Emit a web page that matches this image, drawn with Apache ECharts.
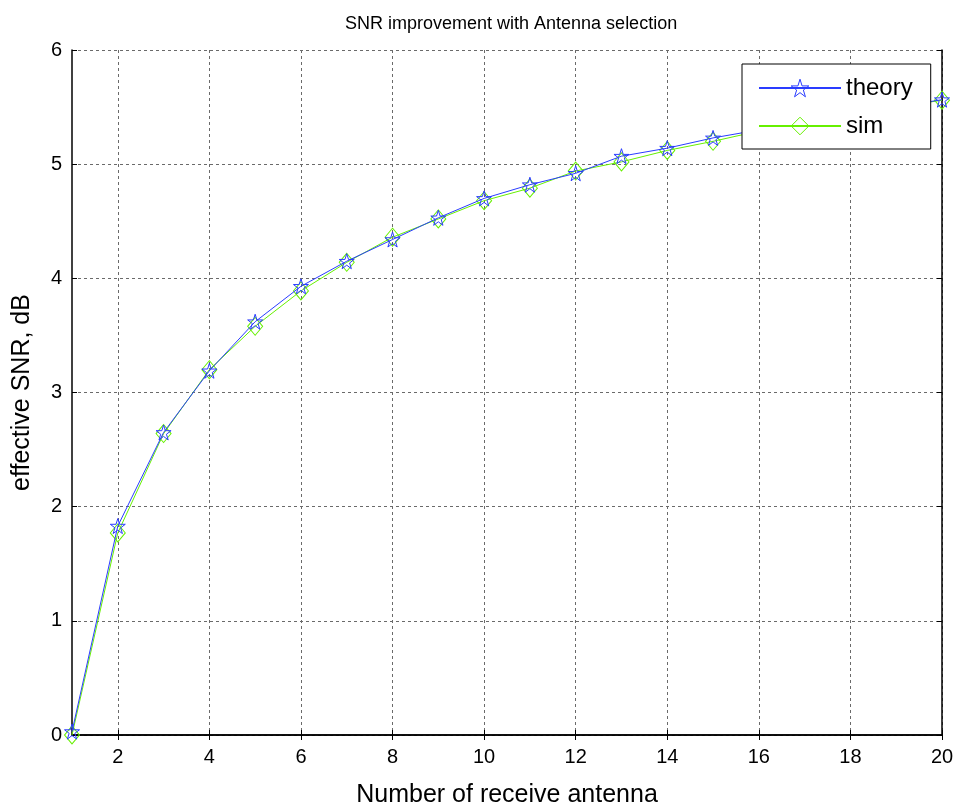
<!DOCTYPE html>
<html>
<head>
<meta charset="utf-8">
<script src="https://cdn.jsdelivr.net/npm/echarts@6/dist/echarts.min.js"></script>
<style>html,body{margin:0;padding:0;background:#fff}#c{width:960px;height:807px}</style>
</head>
<body>
<div id="c"></div>
<script>
var antennas = [1,2,3,4,5,6,7,8,9,10,11,12,13,14,15,16,17,18,19,20];
var theory = [0.03,1.83,2.65,3.19,3.62,3.93,4.15,4.34,4.53,4.70,4.82,4.92,5.07,5.14,5.23,5.30,5.37,5.44,5.50,5.565];
var sim    = [0.00,1.77,2.64,3.20,3.58,3.89,4.14,4.36,4.52,4.68,4.79,4.94,5.02,5.12,5.20,5.29,5.37,5.44,5.50,5.56];
var xTicks = [2,4,6,8,10,12,14,16,18,20];
var yTicks = [0,1,2,3,4,5,6];

var FONT = 'Liberation Sans, Arial, sans-serif';
var STAR = 'path://M50,0 L61.2,34.5 L97.6,34.5 L68.2,55.9 L79.4,90.5 L50,69.1 L20.6,90.5 L31.8,55.9 L2.4,34.5 L38.8,34.5 Z';
var BLUE = '#2a3cff', GREEN = '#66f000';
var CLEAR = 'rgba(255,255,255,0)';

var chart = echarts.init(document.getElementById('c'), null, {renderer:'canvas'});
function pairs(ys){ return antennas.map(function(x,i){ return [x, ys[i]]; }); }
var gridLine = {show:true, lineStyle:{color:'#6a6a6a', type:[3,3], width:1}};
chart.setOption({
  animation:false,
  backgroundColor:'#fff',
  title:{text:'SNR improvement with Antenna selection', left:340, top:10,
    textStyle:{fontFamily:FONT, fontSize:18, fontWeight:'normal', color:'#000'}},
  grid:{left:72, right:18, top:50, bottom:72, containLabel:false, outerBoundsMode:'none'},
  legend:{left:742, top:64, orient:'vertical',
    backgroundColor:'#fff', borderColor:'#000', borderWidth:1, padding:[12,18,11,16],
    itemWidth:82, itemHeight:22, itemGap:14,
    textStyle:{fontFamily:FONT, fontSize:24, color:'#000'},
    data:[{name:'theory', itemStyle:{color:CLEAR, borderColor:BLUE, borderWidth:1}},
          {name:'sim', itemStyle:{color:CLEAR, borderColor:GREEN, borderWidth:1}}]},
  xAxis:[{type:'value', min:1, max:20, position:'bottom',
      name:'Number of receive antenna', nameLocation:'middle', nameGap:48,
      nameTextStyle:{fontFamily:FONT, fontSize:25, color:'#000'},
      axisLine:{show:true, lineStyle:{color:'#000', width:1.5}},
      axisTick:{show:true, inside:true, length:5, customValues:xTicks, lineStyle:{color:'#000'}},
      axisLabel:{show:true, customValues:xTicks, margin:12, fontFamily:FONT, fontSize:20, color:'#000'},
      splitLine:gridLine},
    {type:'value', min:1, max:20, position:'top',
      axisLine:{show:true, lineStyle:{color:'#000', width:1.5}},
      axisTick:{show:true, inside:true, length:5, customValues:xTicks, lineStyle:{color:'#000'}},
      axisLabel:{show:false, customValues:xTicks}, splitLine:{show:false}}],
  yAxis:[{type:'value', min:0, max:6, interval:1, position:'left',
      name:'effective SNR, dB', nameLocation:'middle', nameGap:37, nameRotate:90,
      nameTextStyle:{fontFamily:FONT, fontSize:25, color:'#000'},
      axisLine:{show:true, lineStyle:{color:'#000', width:1.5}},
      axisTick:{show:true, inside:true, length:5, lineStyle:{color:'#000'}},
      axisLabel:{margin:10, fontFamily:FONT, fontSize:20, color:'#000'},
      splitLine:gridLine},
    {type:'value', min:0, max:6, interval:1, position:'right',
      axisLine:{show:true, lineStyle:{color:'#000', width:1.5}},
      axisTick:{show:true, inside:true, length:5, lineStyle:{color:'#000'}},
      axisLabel:{show:false}, splitLine:{show:false}}],
  series:[
    {name:'theory', type:'line', data:pairs(theory), symbol:STAR, symbolSize:15, showAllSymbol:true,
      lineStyle:{color:BLUE, width:1}, itemStyle:{color:CLEAR, borderColor:BLUE, borderWidth:1}, z:3},
    {name:'sim', type:'line', data:pairs(sim), symbol:'diamond', symbolSize:[15,18], showAllSymbol:true,
      lineStyle:{color:GREEN, width:1}, itemStyle:{color:CLEAR, borderColor:GREEN, borderWidth:1}, z:2}
  ]
});
</script>
</body>
</html>
